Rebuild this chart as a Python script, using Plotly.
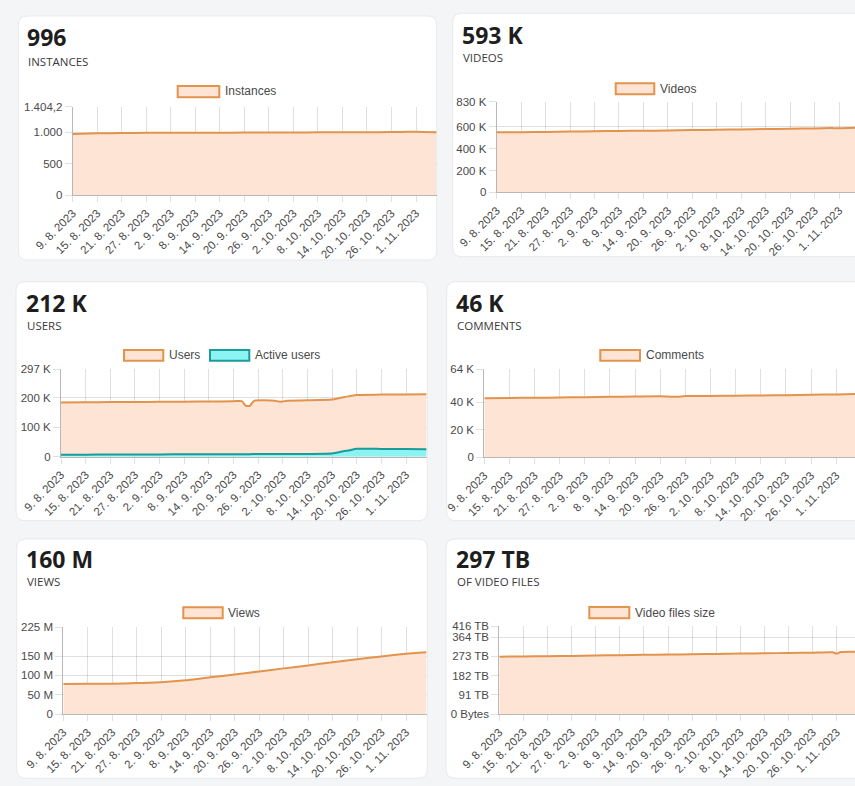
import plotly.graph_objects as go
from datetime import datetime, timedelta

W, H = 855, 786

# ---------------- data ----------------
tick_dates = ["2023-08-09", "2023-08-15", "2023-08-21", "2023-08-27", "2023-09-02",
              "2023-09-08", "2023-09-14", "2023-09-20", "2023-09-26", "2023-10-02",
              "2023-10-08", "2023-10-14", "2023-10-20", "2023-10-26", "2023-11-01"]
tick_labels = ["9. 8. 2023", "15. 8. 2023", "21. 8. 2023", "27. 8. 2023", "2. 9. 2023",
               "8. 9. 2023", "14. 9. 2023", "20. 9. 2023", "26. 9. 2023", "2. 10. 2023",
               "8. 10. 2023", "14. 10. 2023", "20. 10. 2023", "26. 10. 2023", "1. 11. 2023"]

inst_dates = ["2023-08-09", "2023-08-15", "2023-08-21", "2023-08-27", "2023-09-02",
              "2023-09-08", "2023-09-14", "2023-09-20", "2023-09-26", "2023-10-02",
              "2023-10-08", "2023-10-14", "2023-10-20", "2023-10-26", "2023-10-30",
              "2023-11-01", "2023-11-06"]
inst_values = [972, 980, 987, 988, 988, 990, 991, 992, 993, 994, 996, 997, 998, 1000,
               1004, 1005, 997]

videos_dates = ["2023-08-09", "2023-08-15", "2023-08-21", "2023-08-27", "2023-09-02",
                "2023-09-08", "2023-09-14", "2023-09-20", "2023-09-26", "2023-10-02",
                "2023-10-08", "2023-10-14", "2023-10-20", "2023-10-26", "2023-10-30",
                "2023-11-01", "2023-11-06"]
videos_values = [549000, 551000, 553000, 556000, 559000, 562000, 564000, 566000, 570000,
                 573000, 576000, 579000, 582000, 585000, 588000, 587000, 593000]

users_dates = ["2023-08-09", "2023-08-15", "2023-08-21", "2023-08-27", "2023-09-02",
               "2023-09-08", "2023-09-14", "2023-09-20", "2023-09-22", "2023-09-23",
               "2023-09-24", "2023-09-25", "2023-09-30", "2023-10-01", "2023-10-02",
               "2023-10-03", "2023-10-08", "2023-10-14", "2023-10-17", "2023-10-18",
               "2023-10-20", "2023-10-26", "2023-11-01", "2023-11-06"]
users_values = [184500, 185000, 185500, 186000, 186500, 187000, 187500, 188500, 189000,
                173000, 173000, 190000, 190500, 187500, 187500, 190500, 191500, 194000,
                203000, 205000, 210000, 211000, 211500, 212000]
active_values = [7000, 7000, 7200, 7500, 7800, 8000, 8300, 8600, 8700, 8700,
                 8700, 8800, 9000, 9000, 9000, 9100, 9500, 10500, 19000, 21000,
                 27000, 26500, 26000, 25500]

comments_dates = ["2023-08-09", "2023-08-15", "2023-08-21", "2023-08-27", "2023-09-02",
                  "2023-09-08", "2023-09-14", "2023-09-20", "2023-09-24", "2023-09-26",
                  "2023-10-02", "2023-10-08", "2023-10-14", "2023-10-20", "2023-10-26",
                  "2023-11-01", "2023-11-06"]
comments_values = [43000, 43200, 43300, 43500, 43700, 44000, 44200, 44400, 44000, 44500,
                   44600, 44800, 45000, 45200, 45500, 45700, 46000]

views_dates = ["2023-08-09", "2023-08-15", "2023-08-21", "2023-08-27", "2023-09-02",
               "2023-09-08", "2023-09-14", "2023-09-20", "2023-09-26", "2023-10-02",
               "2023-10-08", "2023-10-14", "2023-10-20", "2023-10-26", "2023-11-01",
               "2023-11-06"]
views_values = [77.5e6, 78e6, 78e6, 80e6, 82e6, 87e6, 95e6, 102e6, 110e6, 118e6,
                125.5e6, 134e6, 141.5e6, 149e6, 156e6, 160e6]

files_dates = ["2023-08-09", "2023-08-15", "2023-08-21", "2023-08-27", "2023-09-02",
               "2023-09-08", "2023-09-14", "2023-09-20", "2023-09-26", "2023-10-02",
               "2023-10-08", "2023-10-14", "2023-10-20", "2023-10-26", "2023-10-31",
               "2023-11-01", "2023-11-02", "2023-11-06"]
files_values_tb = [272, 273, 274, 275.5, 277.5, 279, 280.5, 282, 283.5, 285, 286.5,
                   288, 289.5, 291, 293, 286, 294, 295]

# ---------------- styling ----------------
ORANGE = "#e2934c"
PEACH = "#fde4d5"
TEAL = "#1b9c9a"
CYAN = "#8cf3f3"
GRID = "rgba(0,0,0,0.12)"
AXIS = "rgba(0,0,0,0.28)"
TICKC = "#4a4a4a"
TICKFONT = "Liberation Sans, Arial, sans-serif"
TITLEFONT = "Open Sans, sans-serif"

def fx(x):
    return x / W

def fy(y):
    return 1 - y / H

start = datetime(2023, 8, 9)

# panel layout in pixels: x-domain, y-domain (top, bottom), days visible
panels = [
    dict(xd=(72.7, 436.7), yd=(106.7, 195.0), days=89.06,
         yr=1404.2, tv=[0, 500, 1000, 1404.2], tt=["0", "500", "1.000", "1.404,2"]),
    dict(xd=(496.7, 855), yd=(101.7, 192.3), days=87.9,
         yr=830000, tv=[0, 200000, 400000, 600000, 830000],
         tt=["0", "200 K", "400 K", "600 K", "830 K"]),
    dict(xd=(61.0, 426.7), yd=(369.3, 456.7), days=89.04,
         yr=297000, tv=[0, 100000, 200000, 297000], tt=["0", "100 K", "200 K", "297 K"]),
    dict(xd=(484.3, 855), yd=(369.3, 457.3), days=88.5,
         yr=64000, tv=[0, 20000, 40000, 64000], tt=["0", "20 K", "40 K", "64 K"]),
    dict(xd=(63.3, 426.7), yd=(627.0, 714.0), days=89.07,
         yr=225e6, tv=[0, 50e6, 100e6, 150e6, 225e6],
         tt=["0", "50 M", "100 M", "150 M", "225 M"]),
    dict(xd=(499.3, 855), yd=(626.3, 714.0), days=88.55,
         yr=416, tv=[0, 91, 182, 273, 364, 416],
         tt=["0 Bytes", "91 TB", "182 TB", "273 TB", "364 TB", "416 TB"]),
]

fig = go.Figure()

def add_area(idx, xs, ys, line_color, fill_color, name):
    suffix = "" if idx == 1 else str(idx)
    fig.add_trace(go.Scatter(
        x=xs, y=ys, mode="lines", name=name, fill="tozeroy",
        fillcolor=fill_color, line=dict(color=line_color, width=2, shape="spline", smoothing=0.5),
        xaxis="x" + suffix, yaxis="y" + suffix, showlegend=False, hoverinfo="x+y"))

add_area(1, inst_dates, inst_values, ORANGE, PEACH, "Instances")
add_area(2, videos_dates, videos_values, ORANGE, PEACH, "Videos")
add_area(3, users_dates, users_values, ORANGE, PEACH, "Users")
add_area(3, users_dates, active_values, TEAL, CYAN, "Active users")
add_area(4, comments_dates, comments_values, ORANGE, PEACH, "Comments")
add_area(5, views_dates, views_values, ORANGE, PEACH, "Views")
add_area(6, files_dates, files_values_tb, ORANGE, PEACH, "Video files size")

layout = dict(
    width=W, height=H,
    margin=dict(l=0, r=0, t=0, b=0, pad=0),
    paper_bgcolor="#f4f5f7",
    plot_bgcolor="rgba(0,0,0,0)",
    showlegend=False,
)

for i, p in enumerate(panels, start=1):
    suffix = "" if i == 1 else str(i)
    end = start + timedelta(days=p["days"])
    layout["xaxis" + suffix] = dict(
        domain=[fx(p["xd"][0]), min(1.0, fx(p["xd"][1]))],
        anchor="y" + suffix, type="date", automargin=False,
        range=[start.strftime("%Y-%m-%d"), end.strftime("%Y-%m-%d %H:%M:%S")],
        tickmode="array", tickvals=tick_dates, ticktext=tick_labels,
        tickangle=-45, tickfont=dict(family=TICKFONT, size=11.5, color=TICKC),
        showgrid=True, gridcolor=GRID, gridwidth=1,
        ticks="outside", ticklen=6, tickcolor=GRID,
        showline=True, linecolor=AXIS, linewidth=1,
        zeroline=False, fixedrange=True,
    )
    layout["yaxis" + suffix] = dict(
        domain=[fy(p["yd"][1]), fy(p["yd"][0])],
        anchor="x" + suffix, range=[0, p["yr"]], automargin=False,
        tickmode="array", tickvals=p["tv"], ticktext=p["tt"],
        tickfont=dict(family=TICKFONT, size=11.5, color=TICKC),
        showgrid=True, gridcolor=GRID, gridwidth=1,
        ticks="outside", ticklen=7, tickcolor=GRID,
        showline=True, linecolor=AXIS, linewidth=1,
        zeroline=False, fixedrange=True,
    )

# ---------------- cards ----------------
def card_path(x0, y0, x1, y1, r=9):
    rx, ry = r / W, r / H
    X0, X1 = fx(x0), fx(x1)
    Y0, Y1 = fy(y0), fy(y1)  # Y0 top (larger), Y1 bottom
    return (f"M{X0+rx},{Y0} L{X1-rx},{Y0} Q{X1},{Y0} {X1},{Y0-ry} "
            f"L{X1},{Y1+ry} Q{X1},{Y1} {X1-rx},{Y1} L{X0+rx},{Y1} "
            f"Q{X0},{Y1} {X0},{Y1+ry} L{X0},{Y0-ry} Q{X0},{Y0} {X0+rx},{Y0} Z")

cards = [(18.3, 16.0, 436.7, 260.0), (452.7, 13.3, 875, 256.7),
         (16.0, 281.7, 427.3, 520.7), (446.7, 281.7, 875, 520.7),
         (16.7, 539.0, 427.3, 778.3), (446.0, 539.0, 875, 778.3)]

shapes = []
for c in cards:
    shapes.append(dict(type="path", xref="paper", yref="paper", path=card_path(*c),
                       fillcolor="#ffffff", line=dict(color="#e8e9ed", width=1),
                       layer="below"))

# legend boxes (pixel positions)
legend_items = [
    (177.7, 86.0, 219.3, 97.3, 225.3, 91.5, "Instances", PEACH, ORANGE),
    (615.7, 83.3, 654.3, 94.3, 660.0, 88.5, "Videos", PEACH, ORANGE),
    (124.0, 350.0, 163.3, 360.7, 169.3, 355.3, "Users", PEACH, ORANGE),
    (210.0, 350.0, 249.3, 360.7, 255.0, 355.3, "Active users", CYAN, TEAL),
    (600.3, 350.0, 640.0, 360.7, 646.0, 355.3, "Comments", PEACH, ORANGE),
    (183.3, 607.3, 222.7, 618.3, 228.3, 612.8, "Views", PEACH, ORANGE),
    (589.3, 607.0, 629.3, 618.3, 635.0, 612.6, "Video files size", PEACH, ORANGE),
]

annotations = []
for x0, y0, x1, y1, tx, ty, label, fc, lc in legend_items:
    shapes.append(dict(type="rect", xref="paper", yref="paper",
                       x0=fx(x0), x1=fx(x1), y0=fy(y1), y1=fy(y0),
                       fillcolor=fc, line=dict(color=lc, width=2)))
    annotations.append(dict(xref="paper", yref="paper", x=fx(tx - 2), y=fy(ty),
                            xanchor="left", yanchor="middle", showarrow=False,
                            text=label, font=dict(family=TICKFONT, size=12, color="#4a4a4a")))

titles = [
    (28.0, 36.7, 61.0, "996", "INSTANCES"),
    (462.7, 35.0, 57.3, "593 K", "VIDEOS"),
    (26.7, 303.3, 325.0, "212 K", "USERS"),
    (456.7, 303.3, 325.0, "46 K", "COMMENTS"),
    (27.3, 559.3, 581.7, "160 M", "VIEWS"),
    (457.3, 559.3, 581.7, "297 TB", "OF VIDEO FILES"),
]
for x, yb, ys, big, small in titles:
    annotations.append(dict(xref="paper", yref="paper", x=fx(x - 3), y=fy(yb),
                            xanchor="left", yanchor="middle", showarrow=False,
                            text=f"<b>{big}</b>",
                            font=dict(family=TITLEFONT, size=23, color="#1e1e1e")))
    annotations.append(dict(xref="paper", yref="paper", x=fx(x - 2), y=fy(ys),
                            xanchor="left", yanchor="middle", showarrow=False,
                            text=small,
                            font=dict(family=TITLEFONT, size=11.5, color="#3a3a3a")))

layout["shapes"] = shapes
layout["annotations"] = annotations
fig.update_layout(**layout)

fig.write_html("out.html",
               config={"displayModeBar": False},
               post_script="document.body.style.margin='0';document.body.style.overflow='hidden';")
